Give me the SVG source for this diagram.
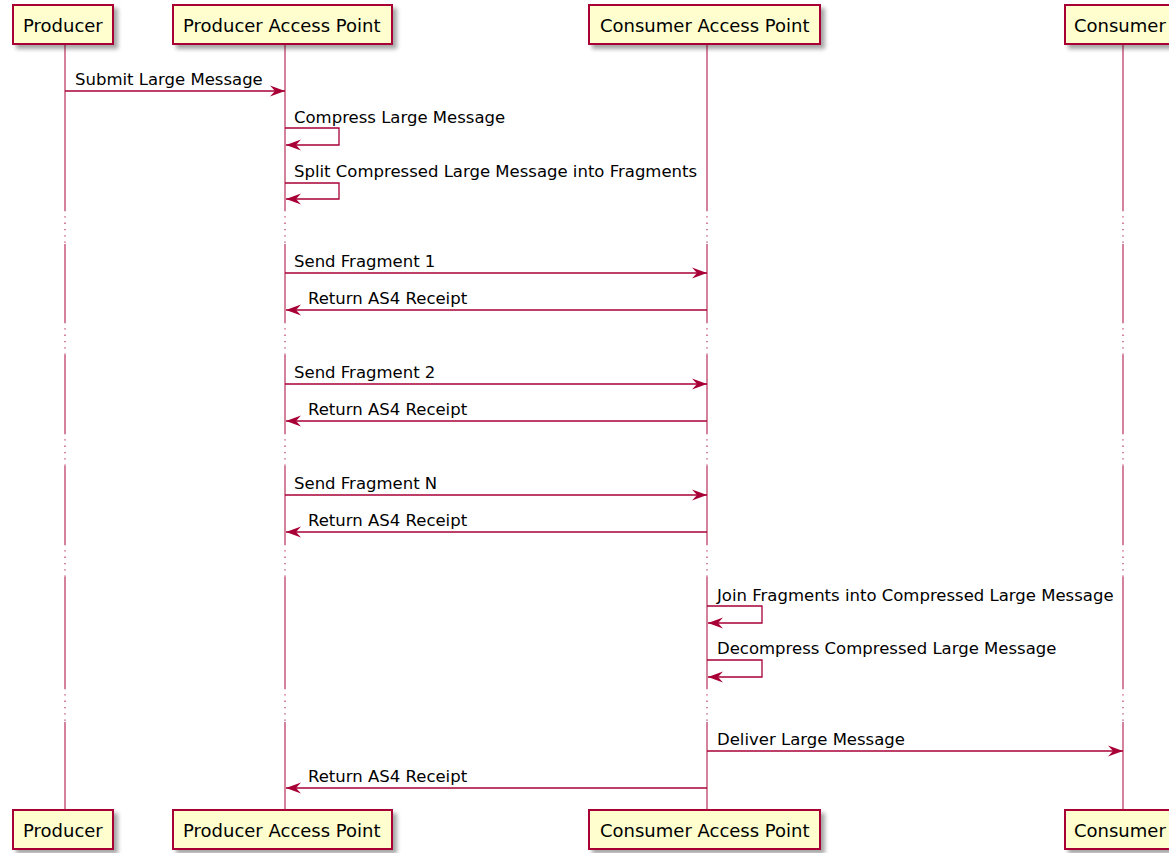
<svg xmlns="http://www.w3.org/2000/svg" width="1169" height="853" viewBox="0 0 1169 853">
<defs>
<filter id="sh" x="-10%" y="-20%" width="130%" height="160%">
<feGaussianBlur in="SourceAlpha" stdDeviation="2"/>
<feOffset dx="4" dy="4" result="o"/>
<feComponentTransfer><feFuncA type="linear" slope="0.35"/></feComponentTransfer>
<feMerge><feMergeNode/><feMergeNode in="SourceGraphic"/></feMerge>
</filter>
<marker id="ah" markerWidth="16" markerHeight="13" refX="15" refY="6.5" orient="auto" markerUnits="userSpaceOnUse">
<polygon points="0,1 15,6.5 0,12 5,6.5" fill="#A80036"/>
</marker>
</defs>
<style>
.box{fill:#FEFECE;stroke:#A80036;stroke-width:2}
.pt{font-family:"DejaVu Sans",sans-serif;font-size:18px;fill:#000}
.mt{font-family:"DejaVu Sans",sans-serif;font-size:16.5px;fill:#000}
.life{stroke:#A80036;stroke-opacity:0.75;stroke-width:1.3;fill:none}
.dot{stroke:#A80036;stroke-opacity:0.75;stroke-width:1.3;fill:none;stroke-dasharray:1.3,5}
.msg{stroke:#A80036;stroke-width:1.3;fill:none;marker-end:url(#ah)}
</style>
<rect width="1169" height="853" fill="#fff"/>
<g id="lifelines">
<g id="life-producer">
<path class="life" d="M65,44V210M65,244V322M65,355V433M65,466V544M65,577V688M65,722V810"/>
<path class="dot" d="M65,210V244M65,322V355M65,433V466M65,544V577M65,688V722"/>
</g>
<g id="life-pap">
<path class="life" d="M285,44V210M285,244V322M285,355V433M285,466V544M285,577V688M285,722V810"/>
<path class="dot" d="M285,210V244M285,322V355M285,433V466M285,544V577M285,688V722"/>
</g>
<g id="life-cap">
<path class="life" d="M707,44V210M707,244V322M707,355V433M707,466V544M707,577V688M707,722V810"/>
<path class="dot" d="M707,210V244M707,322V355M707,433V466M707,544V577M707,688V722"/>
</g>
<g id="life-consumer">
<path class="life" d="M1123,44V210M1123,244V322M1123,355V433M1123,466V544M1123,577V688M1123,722V810"/>
<path class="dot" d="M1123,210V244M1123,322V355M1123,433V466M1123,544V577M1123,688V722"/>
</g>
</g>
<g id="producer-top"><rect class="box" x="13" y="5" width="100" height="39" filter="url(#sh)"/><text class="pt" x="23" y="31.5">Producer</text></g>
<g id="pap-top"><rect class="box" x="173" y="5" width="219" height="39" filter="url(#sh)"/><text class="pt" x="183" y="31.5">Producer Access Point</text></g>
<g id="cap-top"><rect class="box" x="589" y="5" width="231" height="39" filter="url(#sh)"/><text class="pt" x="600" y="31.5">Consumer Access Point</text></g>
<g id="consumer-top"><rect class="box" x="1065" y="5" width="112" height="39" filter="url(#sh)"/><text class="pt" x="1074" y="31.5">Consumer</text></g>
<g id="producer-bottom"><rect class="box" x="13" y="810" width="100" height="39" filter="url(#sh)"/><text class="pt" x="23" y="836.5">Producer</text></g>
<g id="pap-bottom"><rect class="box" x="173" y="810" width="219" height="39" filter="url(#sh)"/><text class="pt" x="183" y="836.5">Producer Access Point</text></g>
<g id="cap-bottom"><rect class="box" x="589" y="810" width="231" height="39" filter="url(#sh)"/><text class="pt" x="600" y="836.5">Consumer Access Point</text></g>
<g id="consumer-bottom"><rect class="box" x="1065" y="810" width="112" height="39" filter="url(#sh)"/><text class="pt" x="1074" y="836.5">Consumer</text></g>
<g id="connectors">
<line class="msg" x1="65" y1="91" x2="285" y2="91"/>
<text class="mt" x="75" y="85">Submit Large Message</text>
<path class="msg" d="M285,128H339V145H286"/>
<text class="mt" x="294" y="122.5">Compress Large Message</text>
<path class="msg" d="M285,183H339V199H286"/>
<text class="mt" x="294" y="177">Split Compressed Large Message into Fragments</text>
<line class="msg" x1="285" y1="273" x2="707" y2="273"/>
<text class="mt" x="294" y="267">Send Fragment 1</text>
<line class="msg" x1="707" y1="310" x2="286" y2="310"/>
<text class="mt" x="308" y="304">Return AS4 Receipt</text>
<line class="msg" x1="285" y1="384" x2="707" y2="384"/>
<text class="mt" x="294" y="378">Send Fragment 2</text>
<line class="msg" x1="707" y1="421" x2="286" y2="421"/>
<text class="mt" x="308" y="415">Return AS4 Receipt</text>
<line class="msg" x1="285" y1="495" x2="707" y2="495"/>
<text class="mt" x="294" y="489">Send Fragment N</text>
<line class="msg" x1="707" y1="532" x2="286" y2="532"/>
<text class="mt" x="308" y="526">Return AS4 Receipt</text>
<path class="msg" d="M707,606H762V623H708"/>
<text class="mt" x="717" y="600.5">Join Fragments into Compressed Large Message</text>
<path class="msg" d="M707,660H762V677H708"/>
<text class="mt" x="717" y="654">Decompress Compressed Large Message</text>
<line class="msg" x1="707" y1="751" x2="1123" y2="751"/>
<text class="mt" x="717" y="745">Deliver Large Message</text>
<line class="msg" x1="707" y1="788" x2="286" y2="788"/>
<text class="mt" x="308" y="782">Return AS4 Receipt</text>
</g>
</svg>
